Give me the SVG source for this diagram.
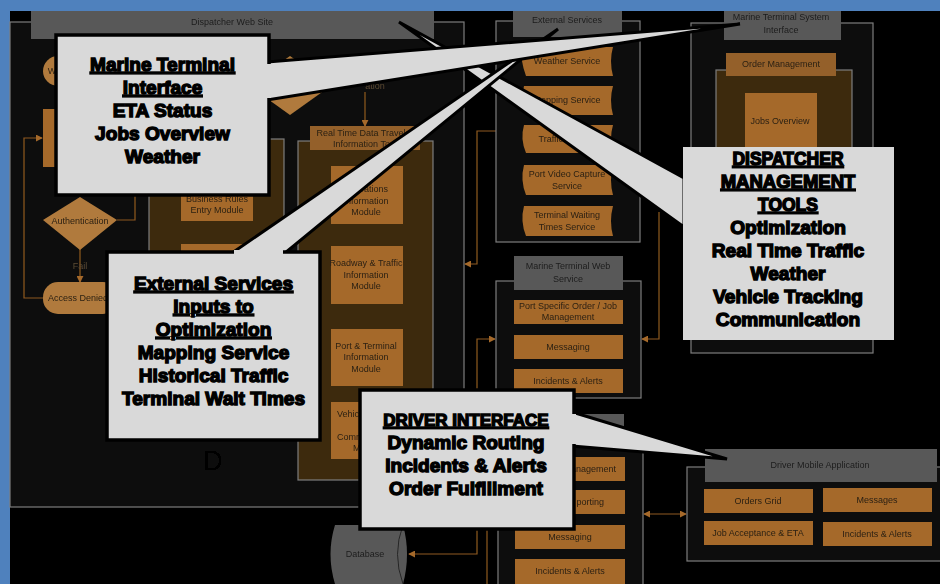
<svg xmlns="http://www.w3.org/2000/svg" width="940" height="584" viewBox="0 0 940 584">
<style>
.panel{fill:#0d0d0d;stroke:#7d7d7d;stroke-width:1.2}
.inner{fill:#3e2911;stroke:#7d7d7d;stroke-width:1.2}
.hdr{fill:#595959}
.box{fill:#a5692a}
.pale{fill:#b07a3c}
.dark{fill:#94602a}
.t{font-family:"Liberation Sans",Arial,sans-serif;font-size:9px;fill:#2c2114;text-anchor:middle}
.h{fill:#1c1c1c}
.e{text-anchor:end}
.s{text-anchor:start}
.con{fill:none;stroke:#8f5a22;stroke-width:1.2}
.tip{fill:#a5692a}
.call{fill:#d9d9d9;stroke:#000;stroke-width:3.5}
.tail{fill:#d9d9d9;stroke:#000;stroke-width:3;stroke-linejoin:miter}
.ct{font-family:"Liberation Sans",Arial,sans-serif;font-weight:700;font-size:19.100px;fill:#000;stroke:#000;stroke-width:1.4;text-anchor:middle}
.u{text-decoration:underline}
</style>
<defs><marker id="a" viewBox="0 0 8 8" refX="7" refY="4" markerWidth="7" markerHeight="7" markerUnits="userSpaceOnUse" orient="auto-start-reverse"><path d="M0 0L8 4L0 8Z" class="tip"/></marker>
<filter id="soft"><feGaussianBlur stdDeviation="0.45"/></filter></defs>
<rect width="940" height="584" fill="#4f81bd"/>
<rect x="10" y="11" width="930" height="573" fill="#000"/>
<g filter="url(#soft)">
<g id="dispatcher-web-site">
<rect class="panel" x="10" y="22" width="454" height="485"/>
<rect class="hdr" x="31" y="11" width="403" height="28"/>
<text class="t h" x="232" y="25">Dispatcher Web Site</text>
<text x="213" y="470" font-family="Liberation Sans,Arial,sans-serif" font-size="27" fill="#000" text-anchor="middle">D</text>
</g>
<g id="connectors">
<path class="con" d="M135 195V220H117"/>
<path class="con" d="M43 298H24V138H42" marker-end="url(#a)"/>
<path class="con" d="M80 248V282" marker-end="url(#a)"/>
<path class="con" d="M365 92V126" marker-end="url(#a)"/>
<path class="con" d="M217 221V244" marker-end="url(#a)"/>
<path class="con" d="M496 131H477V264H465" marker-end="url(#a)"/>
<path class="con" d="M477 390V339H495" marker-end="url(#a)"/>
<path class="con" d="M659 212V339H642" marker-end="url(#a)"/>
<path class="con" d="M477 530V554H409" marker-end="url(#a)"/>
<path class="con" d="M487 530V584"/>
<path class="con" d="M644 514H686" marker-start="url(#a)" marker-end="url(#a)"/>
</g>
<g id="welcome"><ellipse class="pale" cx="58" cy="71" rx="15" ry="15"/><text class="t" x="52" y="74">W</text></g>
<g id="login"><rect class="box" x="43" y="109" width="40" height="58"/></g>
<g id="authentication"><path class="pale" d="M80 197L117 220L80 250L43 220Z"/><text class="t" x="80" y="224">Authentication</text></g>
<text class="t" x="80" y="269" style="fill:#5b4a33" font-size="7">Fail</text>
<g id="access-denied"><rect class="pale" x="43" y="282" width="75" height="32" rx="15"/><text class="t" x="78" y="301">Access Denied</text></g>
<g id="decision"><path class="pale" d="M290 56L332 85L290 115L248 85Z"/></g>
<text class="t" x="375" y="89" style="fill:#5b4a33">ation</text>
<g id="business-rules">
<rect class="inner" x="149" y="139" width="135" height="125"/>
<rect class="box" x="181" y="190" width="72" height="31"/>
<text class="t" x="217" y="202">Business Rules</text><text class="t" x="217" y="213">Entry Module</text>
<rect class="box" x="181" y="244" width="72" height="20"/>
</g>
<g id="real-time-data">
<rect class="inner" x="298" y="141" width="135" height="339"/>
<rect class="dark" x="310" y="126" width="110" height="24"/>
<text class="t" x="365" y="136">Real Time Data Traveler</text><text class="t" x="365" y="147">Information Tool</text>
<rect class="box" x="331" y="166" width="72" height="58"/>
<text class="t" x="366" y="192">Operations</text><text class="t" x="366" y="204">Information</text><text class="t" x="366" y="215">Module</text>
<rect class="box" x="331" y="246" width="72" height="58"/>
<text class="t" x="366" y="266">Roadway &amp; Traffic</text><text class="t" x="366" y="278">Information</text><text class="t" x="366" y="289">Module</text>
<rect class="box" x="331" y="329" width="72" height="57"/>
<text class="t" x="366" y="349">Port &amp; Terminal</text><text class="t" x="366" y="360">Information</text><text class="t" x="366" y="372">Module</text>
<rect class="box" x="331" y="402" width="72" height="57"/>
<text class="t s" x="337" y="417">Vehic</text><text class="t s" x="337" y="440">Comm</text><text class="t s" x="353" y="451">M</text>
</g>
<g id="external-services">
<rect class="panel" x="496" y="21" width="144" height="221"/>
<rect class="hdr" x="513" y="11" width="109" height="26"/>
<text class="t h" x="567" y="23">External Services</text>
<path class="box" d="M522 47H613Q609 61 613 76H526Q520 60 522 47Z"/><text class="t" x="567" y="64">Weather Service</text>
<path class="box" d="M524 86H613Q609 100 613 115H526Q520 100 524 86Z"/><text class="t" x="567" y="103">Mapping Service</text>
<path class="box" d="M524 125H613Q609 139 613 153H526Q520 139 524 125Z"/><text class="t" x="567" y="142">Traffic Service</text>
<path class="box" d="M524 165H613Q609 180 613 195H526Q520 180 524 165Z"/><text class="t" x="567" y="177">Port Video Capture</text><text class="t" x="567" y="189">Service</text>
<path class="box" d="M524 206H613Q609 221 613 236H526Q520 221 524 206Z"/><text class="t" x="567" y="218">Terminal Waiting</text><text class="t" x="567" y="230">Times Service</text>
</g>
<g id="marine-terminal-system-interface">
<rect class="panel" x="691" y="23" width="182" height="330"/>
<rect class="hdr" x="724" y="11" width="117" height="29"/>
<text class="t h" x="781" y="20">Marine Terminal System</text><text class="t h" x="781" y="33">Interface</text>
<rect class="inner" x="716" y="70" width="136" height="100"/>
<rect class="dark" x="726" y="53" width="110" height="23"/>
<text class="t" x="781" y="67">Order Management</text>
<rect class="box" x="745" y="93" width="72" height="60"/>
<text class="t" x="780" y="124">Jobs Overview</text>
</g>
<g id="marine-terminal-web-service">
<rect class="panel" x="496" y="281" width="145" height="117"/>
<rect class="hdr" x="514" y="256" width="109" height="34"/>
<text class="t h" x="568" y="269">Marine Terminal Web</text><text class="t h" x="568" y="282">Service</text>
<rect class="box" x="514" y="300" width="109" height="24"/>
<text class="t" x="568" y="309">Port Specific Order / Job</text><text class="t" x="568" y="320">Management</text>
<rect class="box" x="514" y="335" width="109" height="24"/><text class="t" x="568" y="350">Messaging</text>
<rect class="box" x="514" y="369" width="109" height="24"/><text class="t" x="568" y="384">Incidents &amp; Alerts</text>
</g>
<g id="driver-web-service">
<rect class="panel" x="498" y="436" width="145" height="160"/>
<rect class="hdr" x="516" y="414" width="108" height="34"/>
<rect class="box" x="515" y="457" width="110" height="24"/><text class="t e" x="616" y="472">anagement</text>
<rect class="box" x="515" y="490" width="110" height="24"/><text class="t e" x="604" y="505">porting</text>
<rect class="box" x="515" y="525" width="110" height="24"/><text class="t" x="570" y="540">Messaging</text>
<rect class="box" x="515" y="559" width="110" height="25"/><text class="t" x="570" y="574">Incidents &amp; Alerts</text>
</g>
<g id="driver-mobile-application">
<rect class="panel" x="687" y="467" width="260" height="94"/>
<rect class="hdr" x="705" y="449" width="232" height="33"/>
<text class="t h" x="820" y="468">Driver Mobile Application</text>
<rect class="box" x="704" y="489" width="109" height="24"/><text class="t" x="758" y="504">Orders Grid</text>
<rect class="box" x="823" y="488" width="109" height="24"/><text class="t" x="877" y="503">Messages</text>
<rect class="box" x="704" y="521" width="109" height="24"/><text class="t" x="758" y="536">Job Acceptance &amp; ETA</text>
<rect class="box" x="823" y="522" width="109" height="24"/><text class="t" x="877" y="537">Incidents &amp; Alerts</text>
</g>
<g id="database">
<path d="M335 525H403Q411 554 403 584H335Q326 554 335 525Z" fill="#595959"/>
<path d="M403 525Q392 554 403 584" fill="none" stroke="#262626"/>
<text class="t h" x="365" y="557">Database</text>
</g>
</g>
<g id="callout-dispatcher-tools">
<path class="tail" d="M684 178L399 22L684 227Z"/>
<rect x="683" y="147" width="211" height="193" fill="#d9d9d9"/>
<text class="ct" x="788" y="165"><tspan class="u" font-size="17.500">DISPATCHER</tspan><tspan class="u" x="788" dy="23" font-size="18.500">MANAGEMENT</tspan><tspan class="u" x="788" dy="23" font-size="17.500">TOOLS</tspan><tspan x="788" dy="23">Optimization</tspan><tspan x="788" dy="23">Real Time Traffic</tspan><tspan x="788" dy="23">Weather</tspan><tspan x="788" dy="23">Vehicle Tracking</tspan><tspan x="788" dy="23">Communication</tspan></text>
</g>
<g id="callout-external-services">
<path class="tail" d="M232 253L558 29L285 253Z"/>
<rect class="call" x="107" y="252" width="213" height="188"/>
<path d="M234 252H283" stroke="#d9d9d9" stroke-width="4"/>
<text class="ct" x="213.500" y="290"><tspan class="u">External Services</tspan><tspan class="u" x="213.500" dy="23">Inputs to</tspan><tspan class="u" x="213.500" dy="23">Optimization</tspan><tspan x="213.500" dy="23">Mapping Service</tspan><tspan x="213.500" dy="23">Historical Traffic</tspan><tspan x="213.500" dy="23">Terminal Wait Times</tspan></text>
</g>
<g id="callout-marine-terminal">
<path class="tail" d="M267 62L740 24L267 100Z"/>
<rect class="call" x="56" y="35" width="213" height="160"/>
<path d="M269 64V98" stroke="#d9d9d9" stroke-width="4"/>
<text class="ct" x="162.500" y="71"><tspan class="u">Marine Terminal</tspan><tspan class="u" x="162.500" dy="23">Interface</tspan><tspan x="162.500" dy="23">ETA Status</tspan><tspan x="162.500" dy="23">Jobs Overview</tspan><tspan x="162.500" dy="23">Weather</tspan></text>
</g>
<g id="callout-driver-interface">
<path class="tail" d="M572 412L727 459L572 446Z"/>
<rect class="call" x="360" y="390" width="214" height="139"/>
<path d="M574 414V444" stroke="#d9d9d9" stroke-width="4"/>
<text class="ct" x="466" y="426"><tspan class="u" font-size="17">DRIVER INTERFACE</tspan><tspan x="466" dy="23">Dynamic Routing</tspan><tspan x="466" dy="23">Incidents &amp; Alerts</tspan><tspan x="466" dy="23">Order Fulfillment</tspan></text>
</g>
</svg>
